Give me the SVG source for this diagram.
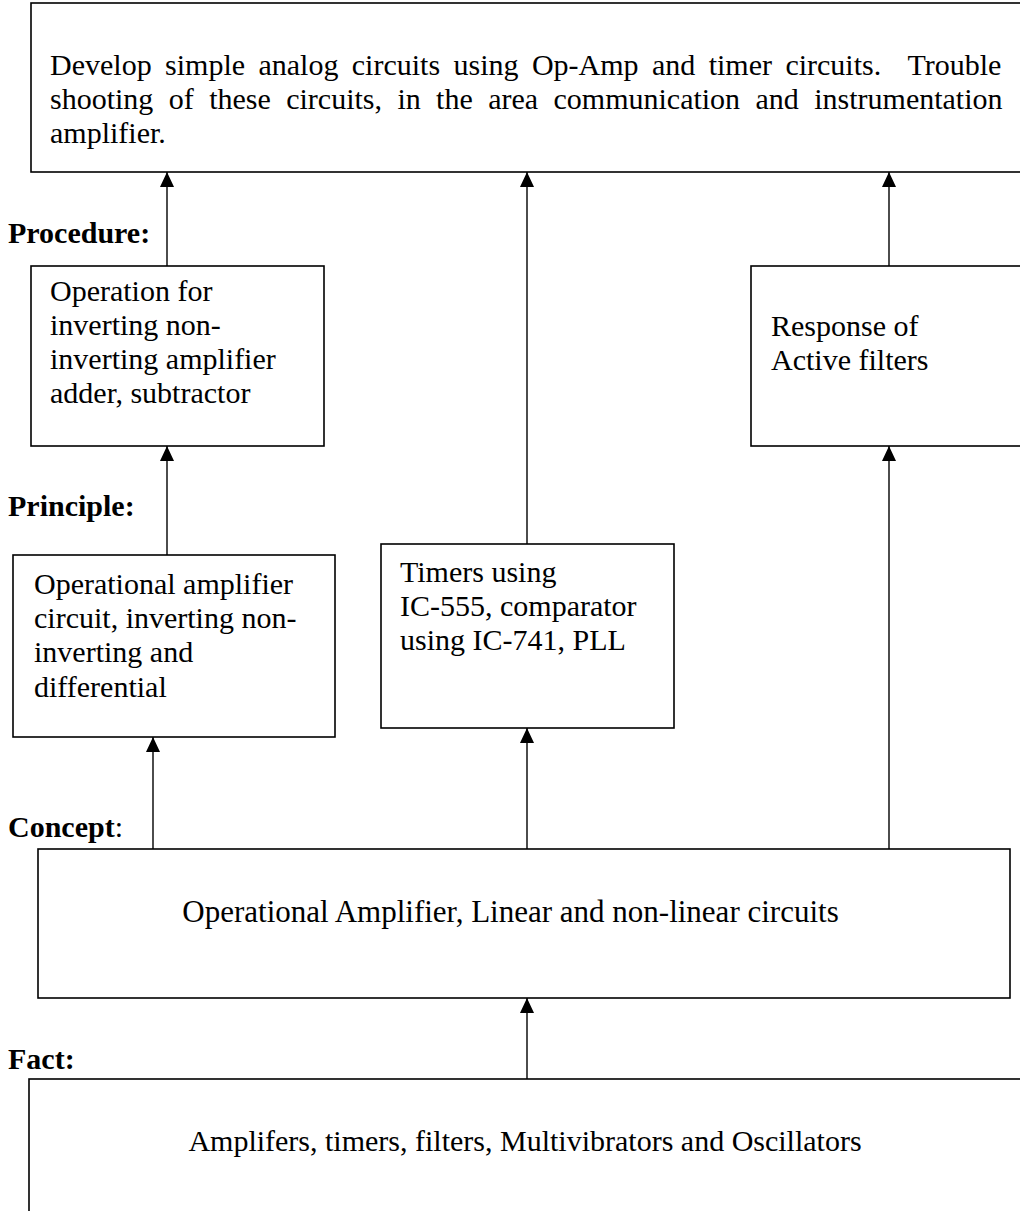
<svg xmlns="http://www.w3.org/2000/svg" width="1020" height="1211" viewBox="0 0 1020 1211">
<defs>
<marker id="ah" markerUnits="userSpaceOnUse" markerWidth="15" markerHeight="14" refX="15" refY="7" orient="auto">
<path d="M0,0 L15,7 L0,14 z" fill="#000"/>
</marker>
<style>
.box{fill:#fff;stroke:#000;stroke-width:1.6}
.t{font-family:"Liberation Serif","Times New Roman",serif;font-size:30px;fill:#000}
.lbl{font-family:"Liberation Serif","Times New Roman",serif;font-size:30px;font-weight:bold;fill:#000}
.c{stroke:#000;stroke-width:1.4;fill:none;marker-end:url(#ah)}
</style>
</defs>
<rect width="1020" height="1211" fill="#fff"/>

<g id="outcome">
<rect class="box" x="31" y="3" width="1000" height="169"/>
<text class="t" x="50" y="75" style="word-spacing:5.9px" xml:space="preserve">Develop simple analog circuits using Op-Amp and timer circuits.  Trouble</text>
<text class="t" x="50" y="109" style="word-spacing:7.9px">shooting of these circuits, in the area communication and instrumentation</text>
<text class="t" x="50" y="143">amplifier.</text>
</g>

<g id="label-procedure"><text class="lbl" x="8" y="243">Procedure:</text></g>
<g id="label-principle"><text class="lbl" x="8" y="516">Principle:</text></g>
<g id="label-concept"><text class="lbl" x="8" y="837">Concept<tspan font-weight="normal">:</tspan></text></g>
<g id="label-fact"><text class="lbl" x="8" y="1069">Fact:</text></g>

<g id="procedure">
<rect class="box" x="31" y="266" width="293" height="180"/>
<text class="t" x="50" y="301">Operation for</text>
<text class="t" x="50" y="335">inverting non-</text>
<text class="t" x="50" y="369">inverting amplifier</text>
<text class="t" x="50" y="403">adder, subtractor</text>
</g>

<g id="response">
<rect class="box" x="751" y="266" width="280" height="180"/>
<text class="t" x="771" y="336">Response of</text>
<text class="t" x="771" y="370">Active filters</text>
</g>

<g id="principle">
<rect class="box" x="13" y="555" width="322" height="182"/>
<text class="t" x="34" y="594">Operational amplifier</text>
<text class="t" x="34" y="628">circuit, inverting non-</text>
<text class="t" x="34" y="662">inverting and</text>
<text class="t" x="34" y="697">differential</text>
</g>

<g id="timers">
<rect class="box" x="381" y="544" width="293" height="184"/>
<text class="t" x="400" y="582">Timers using</text>
<text class="t" x="400" y="616">IC-555, comparator</text>
<text class="t" x="400" y="650">using IC-741, PLL</text>
</g>

<g id="concept">
<rect class="box" x="38" y="849" width="972" height="149"/>
<text class="t" x="510.5" y="922" text-anchor="middle" style="font-size:31px">Operational Amplifier, Linear and non-linear circuits</text>
</g>

<g id="fact">
<rect class="box" x="29" y="1079" width="1010" height="150"/>
<text class="t" x="525" y="1151" text-anchor="middle">Amplifers, timers, filters, Multivibrators and Oscillators</text>
</g>

<g id="connectors">
<line class="c" x1="167" y1="266" x2="167" y2="172"/>
<line class="c" x1="167" y1="555" x2="167" y2="446"/>
<line class="c" x1="153" y1="849" x2="153" y2="737"/>
<line class="c" x1="527" y1="544" x2="527" y2="172"/>
<line class="c" x1="527" y1="849" x2="527" y2="728"/>
<line class="c" x1="527" y1="1079" x2="527" y2="998"/>
<line class="c" x1="889" y1="266" x2="889" y2="172"/>
<line class="c" x1="889" y1="849" x2="889" y2="446"/>
</g>
</svg>
